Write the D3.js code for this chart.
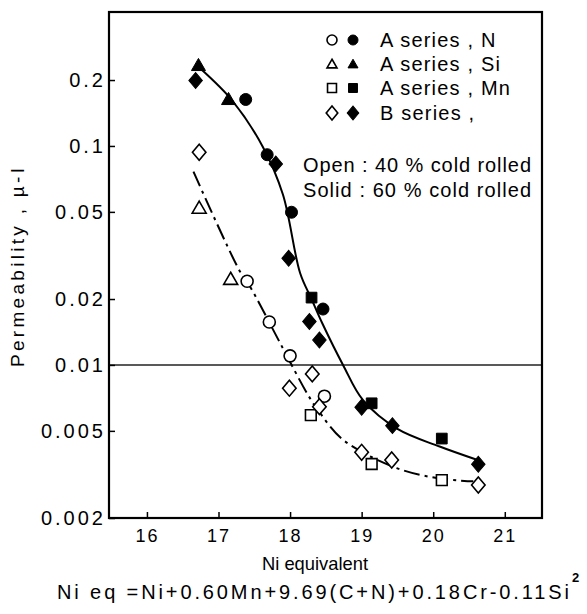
<!DOCTYPE html>
<html>
<head>
<meta charset="utf-8">
<script src="https://cdn.jsdelivr.net/npm/d3@7"></script>
<style>
  body { margin: 0; background: #fff; }
  text { font-family: "Liberation Sans", Arial, sans-serif; fill: #000; }
</style>
</head>
<body>
<div id="chart"></div>
<script>
// values
var xTicks = [16, 17, 18, 19, 20, 21];
var yTicks = [0.2, 0.1, 0.05, 0.02, 0.01, 0.005, 0.002];
var yTickLabels = ["0.2", "0.1", "0.05", "0.02", "0.01", "0.005", "0.002"];

var nOpenX = [17.40, 17.71, 18.00, 18.48];
var nOpenY = [0.0241, 0.0157, 0.0110, 0.0072];
var nSolidX = [17.38, 17.68, 18.02, 18.46];
var nSolidY = [0.163, 0.0912, 0.0498, 0.0180];
var siOpenX = [16.73, 17.17];
var siOpenY = [0.052, 0.0246];
var siSolidX = [16.72, 17.14];
var siSolidY = [0.233, 0.163];
var mnOpenX = [18.29, 19.14, 20.12];
var mnOpenY = [0.0059, 0.00353, 0.00298];
var mnSolidX = [18.30, 19.14, 20.12];
var mnSolidY = [0.0203, 0.00668, 0.00461];
var bOpenX = [16.73, 17.99, 18.31, 18.41, 19.00, 19.42, 20.63];
var bOpenY = [0.0936, 0.00783, 0.0091, 0.00645, 0.00399, 0.00368, 0.00283];
var bSolidX = [16.68, 17.80, 17.98, 18.27, 18.41, 19.00, 19.43, 20.63];
var bSolidY = [0.199, 0.0828, 0.0307, 0.0158, 0.0130, 0.00641, 0.00528, 0.00352];

// hand-drawn fit curves
var solidCurveX = [16.75, 17.2, 17.62, 17.9, 18.14, 18.3, 18.45, 18.74, 19.02, 19.5, 20.09, 20.6];
var solidCurveY = [0.225, 0.16, 0.099, 0.06, 0.0263, 0.02, 0.0155, 0.0100, 0.0069, 0.0051, 0.00424, 0.0037];
var openCurveX = [16.65, 17.3, 17.44, 17.86, 18.25, 18.42, 18.74, 19.49, 20.09, 20.56];
var openCurveY = [0.0763, 0.0267, 0.0228, 0.0126, 0.0073, 0.00602, 0.00455, 0.00338, 0.00303, 0.00294];

var legendLabels = ["A series , N", "A series , Si", "A series , Mn", "B series ,"];
var legendShapes = ["circle", "triangle", "square", "diamond"];

var width = 587, height = 614;
var plotLeft = 109, plotRight = 542, plotTop = 12, plotBottom = 518;

var svg = d3.select("#chart").append("svg")
    .attr("width", width)
    .attr("height", height);

var x = d3.scaleLinear().domain([15.47, 21.52]).range([plotLeft, plotRight]);
var y = d3.scaleLog().domain([0.002, 0.409]).range([plotBottom, plotTop]);

// 0.01 reference line
svg.append("line")
    .attr("x1", plotLeft).attr("x2", plotRight)
    .attr("y1", y(0.01)).attr("y2", y(0.01))
    .attr("stroke", "#222").attr("stroke-width", 1.5);

// axes with inward ticks
var xAxis = d3.axisBottom(x).tickValues(xTicks).tickSize(-6).tickPadding(11)
    .tickFormat(d3.format("d"));
var gx = svg.append("g").attr("transform", "translate(0," + plotBottom + ")").call(xAxis);
gx.select(".domain").remove();
gx.selectAll("line").attr("stroke-width", 1.5);
gx.selectAll("text").style("font-size", "18px").attr("letter-spacing", "2px")
    .attr("font-family", "Liberation Sans");

var yAxis = d3.axisLeft(y).tickValues(yTicks).tickSize(-6).tickPadding(3)
    .tickFormat(function (d, i) { return yTickLabels[i]; });
var gy = svg.append("g").attr("transform", "translate(" + plotLeft + ",0)").call(yAxis);
gy.select(".domain").remove();
gy.selectAll("line").attr("stroke-width", 1.5);
gy.selectAll("text").style("font-size", "20px").attr("letter-spacing", "3px")
    .attr("font-family", "Liberation Sans");

// frame
svg.append("rect")
    .attr("x", plotLeft).attr("y", plotTop)
    .attr("width", plotRight - plotLeft).attr("height", plotBottom - plotTop)
    .attr("fill", "none").attr("stroke", "#000").attr("stroke-width", 2.2);

// curves
function zip(xs, ys) {
    return xs.map(function (v, i) { return [v, ys[i]]; });
}
var line = d3.line()
    .x(function (d) { return x(d[0]); })
    .y(function (d) { return y(d[1]); })
    .curve(d3.curveCatmullRom.alpha(0.5));

svg.append("path")
    .attr("d", line(zip(solidCurveX, solidCurveY)))
    .attr("fill", "none").attr("stroke", "#000").attr("stroke-width", 2);

svg.append("path")
    .attr("d", line(zip(openCurveX, openCurveY)))
    .attr("fill", "none").attr("stroke", "#000").attr("stroke-width", 2)
    .attr("stroke-dasharray", "16,5,3,5");

// markers
function symbolPath(shape, s) {
    if (shape == "circle") return d3.symbol().type(d3.symbolCircle).size(Math.PI * s * s / 4)();
    if (shape == "triangle") return d3.symbol().type(d3.symbolTriangle).size(Math.sqrt(3) / 4 * s * s)();
    if (shape == "square") return d3.symbol().type(d3.symbolSquare).size(s * s * 0.8)();
    return d3.symbol().type(d3.symbolSquare).size(s * s * 0.55)();
}

function drawMarkers(xs, ys, shape, filled, s) {
    svg.append("g").selectAll("path")
        .data(zip(xs, ys))
        .enter()
        .append("path")
        .attr("d", symbolPath(shape, s))
        .attr("transform", function (d) {
            var t = "translate(" + x(d[0]) + "," + y(d[1]) + ")";
            if (shape == "diamond") t += " scale(0.92,1.08) rotate(45)";
            if (shape == "triangle") t += " translate(0,1)";
            return t;
        })
        .attr("fill", filled ? "#000" : "#fff")
        .attr("stroke", "#000")
        .attr("stroke-width", filled ? 1 : 1.6);
}

drawMarkers(nOpenX, nOpenY, "circle", false, 12);
drawMarkers(siOpenX, siOpenY, "triangle", false, 14);
drawMarkers(mnOpenX, mnOpenY, "square", false, 12);
drawMarkers(bOpenX, bOpenY, "diamond", false, 14);
drawMarkers(nSolidX, nSolidY, "circle", true, 12);
drawMarkers(siSolidX, siSolidY, "triangle", true, 14);
drawMarkers(mnSolidX, mnSolidY, "square", true, 12);
drawMarkers(bSolidX, bSolidY, "diamond", true, 14);

// legend
var legend = svg.append("g");
var rowY = [40, 64, 88, 113];
legendLabels.forEach(function (lab, i) {
    var sh = legendShapes[i];
    [false, true].forEach(function (filled, k) {
        var t = "translate(" + (332 + k * 21) + "," + rowY[i] + ")";
        if (sh == "diamond") t += " scale(0.92,1.1) rotate(45)";
        if (sh == "triangle") t += " translate(0,1)";
        legend.append("path")
            .attr("d", symbolPath(sh, sh == "diamond" ? 12 : 10))
            .attr("transform", t)
            .attr("fill", filled ? "#000" : "#fff")
            .attr("stroke", "#000")
            .attr("stroke-width", filled ? 1 : 1.6);
    });
    legend.append("text")
        .attr("x", 380).attr("y", rowY[i])
        .attr("dy", "0.36em")
        .style("font-size", "20px")
        .attr("letter-spacing", "1.2px")
        .text(lab);
});

legend.append("text")
    .attr("x", 303).attr("y", 165).attr("dy", "0.36em")
    .style("font-size", "20px")
    .attr("textLength", 228).attr("lengthAdjust", "spacing")
    .text("Open : 40 % cold rolled");
legend.append("text")
    .attr("x", 303).attr("y", 190).attr("dy", "0.36em")
    .style("font-size", "20px")
    .attr("textLength", 228).attr("lengthAdjust", "spacing")
    .text("Solid : 60 % cold rolled");

// axis titles
svg.append("text")
    .attr("x", 262).attr("y", 563).attr("dy", "0.36em")
    .style("font-size", "19px")
    .attr("textLength", 106).attr("lengthAdjust", "spacingAndGlyphs")
    .text("Ni  equivalent");

var formula = svg.append("text")
    .attr("x", 57).attr("y", 592).attr("dy", "0.36em")
    .style("font-size", "20px")
    .attr("textLength", 512).attr("lengthAdjust", "spacing");
formula.append("tspan").text("Ni  eq =Ni+0.60Mn+9.69(C+N)+0.18Cr-0.11Si");
svg.append("text")
    .attr("x", 572).attr("y", 582)
    .style("font-size", "13px").style("font-weight", "bold")
    .text("2");

svg.append("text")
    .attr("transform", "translate(24,367) rotate(-90)")
    .style("font-size", "19px")
    .attr("textLength", 199).attr("lengthAdjust", "spacing")
    .text("Permeability , \u00b5-I");
</script>
</body>
</html>
